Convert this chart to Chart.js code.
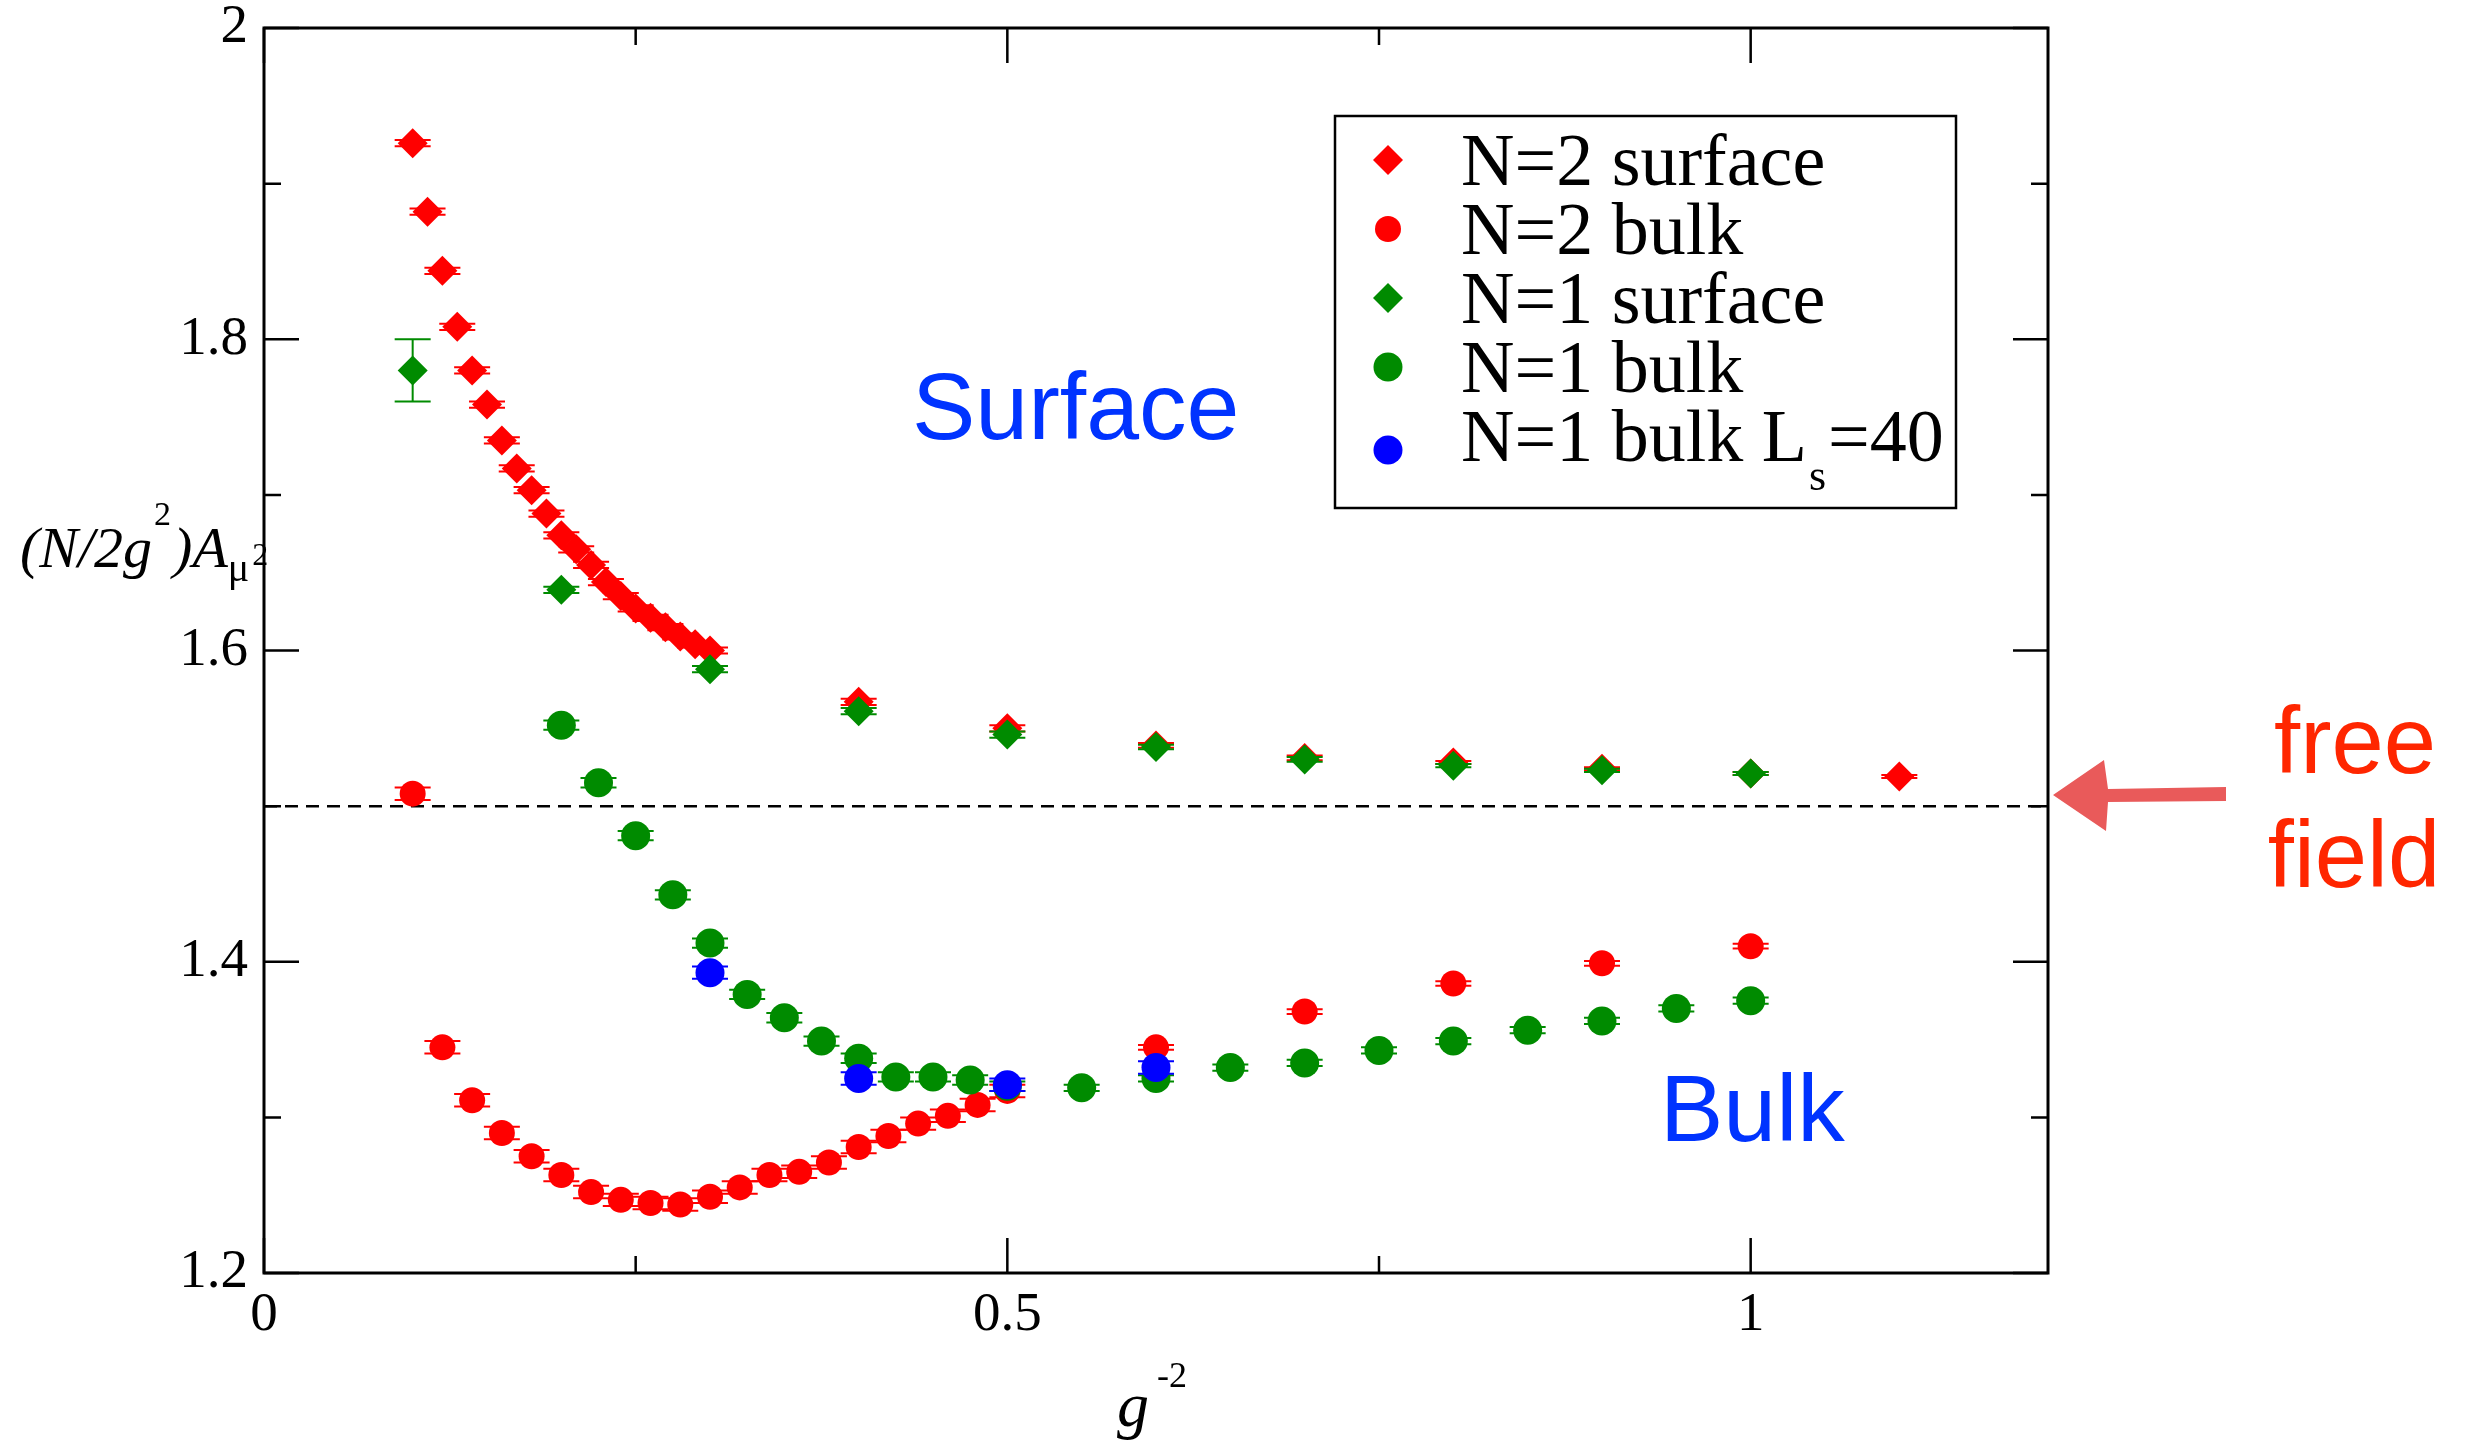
<!DOCTYPE html>
<html lang="en">
<head>
<meta charset="UTF-8">
<title>(N/2g²)A vs g⁻²</title>
<script src="https://cdn.jsdelivr.net/npm/chart.js@4.4.1/dist/chart.umd.min.js"></script>
<style>
  html, body { margin: 0; padding: 0; background: #fff; }
  #wrap { position: relative; width: 2465px; height: 1447px; }
</style>
</head>
<body>
<div id="wrap"><canvas id="plot"></canvas></div>
<script>
// --- axis ticks ---
const xTickValues = [0, 0.5, 1];
const xMinorTicks = [0.25, 0.75];
const yTickValues = [1.2, 1.4, 1.6, 1.8, 2];
const yMinorTicks = [1.3, 1.5, 1.7, 1.9];
const freeFieldLevel = 1.5;

// --- N=2 surface ---
const n2SurfX = [0.10, 0.11, 0.12, 0.13, 0.14, 0.15, 0.16, 0.17, 0.18, 0.19, 0.20,
                 0.21, 0.22, 0.23, 0.24, 0.25, 0.26, 0.27, 0.28, 0.29, 0.30,
                 0.4, 0.5, 0.6, 0.7, 0.8, 0.9, 1.0, 1.1];
const n2SurfY = [1.926, 1.882, 1.844, 1.808, 1.780, 1.758, 1.735, 1.717, 1.703, 1.688, 1.674,
                 1.665, 1.655, 1.644, 1.635, 1.627, 1.621, 1.615, 1.609, 1.604, 1.600,
                 1.567, 1.550, 1.539, 1.531, 1.528, 1.524, 1.521, 1.519];
const n2SurfErr = [0.002, 0.002, 0.002, 0.002, 0.002, 0.002, 0.002, 0.002, 0.002, 0.002, 0.002,
                   0.002, 0.002, 0.002, 0.002, 0.002, 0.002, 0.002, 0.002, 0.002, 0.002,
                   0.002, 0.002, 0.0015, 0.0015, 0.001, 0.001, 0.001, 0.001];

// --- N=2 bulk ---
const n2BulkX = [0.10, 0.12, 0.14, 0.16, 0.18, 0.20, 0.22, 0.24, 0.26, 0.28, 0.30,
                 0.32, 0.34, 0.36, 0.38, 0.40, 0.42, 0.44, 0.46, 0.48, 0.50,
                 0.6, 0.7, 0.8, 0.9, 1.0];
const n2BulkY = [1.508, 1.345, 1.311, 1.290, 1.275, 1.263, 1.252, 1.247, 1.245, 1.244, 1.249,
                 1.255, 1.263, 1.265, 1.271, 1.281, 1.288, 1.296, 1.301, 1.308, 1.317,
                 1.345, 1.368, 1.386, 1.399, 1.410];
const n2BulkErr = [0.004, 0.004, 0.004, 0.004, 0.004, 0.004, 0.004, 0.004, 0.004, 0.004, 0.004,
                   0.004, 0.004, 0.004, 0.004, 0.004, 0.004, 0.004, 0.004, 0.004, 0.004,
                   0.0015, 0.0015, 0.0015, 0.0015, 0.0015];

// --- N=1 surface ---
const n1SurfX = [0.1, 0.2, 0.3, 0.4, 0.5, 0.6, 0.7, 0.8, 0.9, 1.0];
const n1SurfY = [1.780, 1.639, 1.588, 1.561, 1.546, 1.538, 1.530, 1.526, 1.523, 1.521];
const n1SurfErr = [0.020, 0.002, 0.002, 0.002, 0.002, 0.0015, 0.0015, 0.001, 0.001, 0.001];

// --- N=1 bulk ---
const n1BulkX = [0.2, 0.225, 0.25, 0.275, 0.3, 0.325, 0.35, 0.375, 0.4, 0.425, 0.45, 0.475, 0.5,
                 0.55, 0.6, 0.65, 0.7, 0.75, 0.8, 0.85, 0.9, 0.95, 1.0];
const n1BulkY = [1.552, 1.515, 1.481, 1.443, 1.412, 1.379, 1.364, 1.349, 1.338, 1.326, 1.326, 1.324, 1.320,
                 1.319, 1.325, 1.332, 1.335, 1.343, 1.349, 1.356, 1.362, 1.370, 1.375];
const n1BulkErr = [0.003, 0.003, 0.003, 0.003, 0.003, 0.003, 0.003, 0.003, 0.003, 0.003, 0.003, 0.003, 0.003,
                   0.002, 0.002, 0.002, 0.002, 0.002, 0.002, 0.002, 0.002, 0.002, 0.002];

// --- N=1 bulk, Ls=40 ---
const n1Ls40X = [0.3, 0.4, 0.5, 0.6];
const n1Ls40Y = [1.393, 1.325, 1.321, 1.332];
const n1Ls40Err = [0.004, 0.004, 0.004, 0.004];

const RED = '#ff0000';
const GREEN = '#008b00';
const BLUE = '#0000ff';
const SERIF = '"Liberation Serif", "Times New Roman", serif';
const SANS = '"Liberation Sans", Helvetica, Arial, sans-serif';

function makeSet(label, xs, ys, errs, color, style, radius, order) {
    return {
        label: label,
        data: xs.map((x, i) => ({ x: x, y: ys[i] })),
        errors: errs,
        pointStyle: style,
        pointRadius: radius,
        pointBackgroundColor: color,
        pointBorderWidth: 0,
        borderColor: color,
        showLine: false,
        order: order
    };
}

// error bars drawn under each set's own markers
const errorBars = {
    id: 'errorBars',
    beforeDatasetDraw(chart, args) {
        const ds = chart.data.datasets[args.index];
        if (!ds.errors) return;
        const ctx = chart.ctx;
        const ys = chart.scales.y;
        ctx.save();
        ctx.strokeStyle = ds.borderColor;
        ctx.lineWidth = 2;
        args.meta.data.forEach((pt, i) => {
            const v = ds.data[i].y, e = ds.errors[i];
            const yt = ys.getPixelForValue(v + e), yb = ys.getPixelForValue(v - e);
            const cap = 18;
            ctx.beginPath();
            ctx.moveTo(pt.x, yt); ctx.lineTo(pt.x, yb);
            ctx.moveTo(pt.x - cap, yt); ctx.lineTo(pt.x + cap, yt);
            ctx.moveTo(pt.x - cap, yb); ctx.lineTo(pt.x + cap, yb);
            ctx.stroke();
        });
        ctx.restore();
    }
};

function diamond(ctx, x, y, r) {
    ctx.beginPath();
    ctx.moveTo(x - r, y); ctx.lineTo(x, y - r); ctx.lineTo(x + r, y); ctx.lineTo(x, y + r);
    ctx.closePath();
    ctx.fill();
}
function dot(ctx, x, y, r) {
    ctx.beginPath();
    ctx.arc(x, y, r, 0, Math.PI * 2);
    ctx.fill();
}

// frame, ticks, free-field line, legend and labels
const decorations = {
    id: 'decorations',
    beforeDatasetsDraw(chart) {
        const ctx = chart.ctx, a = chart.chartArea, ys = chart.scales.y;
        const y = ys.getPixelForValue(freeFieldLevel);
        ctx.save();
        ctx.strokeStyle = '#000';
        ctx.lineWidth = 2.5;
        ctx.setLineDash([13, 8]);
        ctx.beginPath();
        ctx.moveTo(a.left, y); ctx.lineTo(a.right, y);
        ctx.stroke();
        ctx.restore();
    },
    afterDatasetsDraw(chart) {
        const ctx = chart.ctx, a = chart.chartArea;
        const xs = chart.scales.x, ys = chart.scales.y;
        ctx.save();
        ctx.strokeStyle = '#000';
        ctx.lineWidth = 2.5;
        const major = 35, minor = 17;
        ctx.beginPath();
        const yTick = (v, len) => {
            const p = ys.getPixelForValue(v);
            ctx.moveTo(a.left, p); ctx.lineTo(a.left + len, p);
            ctx.moveTo(a.right, p); ctx.lineTo(a.right - len, p);
        };
        const xTick = (v, len) => {
            const p = xs.getPixelForValue(v);
            ctx.moveTo(p, a.bottom); ctx.lineTo(p, a.bottom - len);
            ctx.moveTo(p, a.top); ctx.lineTo(p, a.top + len);
        };
        yTickValues.forEach(v => yTick(v, major));
        yMinorTicks.forEach(v => yTick(v, minor));
        xTickValues.forEach(v => xTick(v, major));
        xMinorTicks.forEach(v => xTick(v, minor));
        ctx.stroke();
        ctx.lineWidth = 3;
        ctx.strokeRect(a.left, a.top, a.right - a.left, a.bottom - a.top);
        ctx.restore();
    },
    afterDraw(chart) {
        const ctx = chart.ctx;
        ctx.save();
        ctx.textAlign = 'left';
        ctx.textBaseline = 'alphabetic';

        // legend
        ctx.strokeStyle = '#000';
        ctx.lineWidth = 2.5;
        ctx.strokeRect(1335, 116, 621, 392);
        const rows = [
            { text: 'N=2 surface', color: RED, shape: 'd', r: 15, cy: 160, base: 185 },
            { text: 'N=2 bulk', color: RED, shape: 'c', r: 13, cy: 229, base: 254 },
            { text: 'N=1 surface', color: GREEN, shape: 'd', r: 15, cy: 298, base: 323 },
            { text: 'N=1 bulk', color: GREEN, shape: 'c', r: 14.5, cy: 367, base: 392 },
            { text: 'N=1 bulk L', color: BLUE, shape: 'c', r: 14.5, cy: 450, base: 461 }
        ];
        rows.forEach(row => {
            ctx.fillStyle = row.color;
            if (row.shape === 'd') diamond(ctx, 1388, row.cy, row.r);
            else dot(ctx, 1388, row.cy, row.r);
            ctx.fillStyle = '#000';
            ctx.font = '74px ' + SERIF;
            ctx.fillText(row.text, 1461, row.base);
        });
        let lx = 1461 + ctx.measureText('N=1 bulk L').width + 2;
        ctx.font = '44px ' + SERIF;
        ctx.fillText('s', lx, 490);
        lx += ctx.measureText('s').width + 2;
        ctx.font = '74px ' + SERIF;
        ctx.fillText('=40', lx, 461);

        // y axis title
        let x = 20;
        const yb = 567;
        ctx.font = 'italic 58px ' + SERIF;
        ctx.fillText('(N/2g', x, yb);
        x += ctx.measureText('(N/2g').width + 2;
        ctx.font = '34px ' + SERIF;
        ctx.fillText('2', x, yb - 42);
        x += ctx.measureText('2').width + 2;
        ctx.font = 'italic 58px ' + SERIF;
        ctx.fillText(')A', x, yb);
        x += ctx.measureText(')A').width;
        ctx.font = '40px ' + SERIF;
        ctx.fillText('\u03bc', x, yb + 14);
        x += ctx.measureText('\u03bc').width + 3;
        ctx.font = '32px ' + SERIF;
        ctx.fillText('2', x, yb - 2);

        // x axis title
        ctx.font = 'italic 64px ' + SERIF;
        ctx.fillText('g', 1117, 1426);
        ctx.font = '36px ' + SERIF;
        ctx.fillText('-2', 1157, 1387);

        // region labels
        ctx.fillStyle = '#0033ff';
        ctx.font = '95px ' + SANS;
        ctx.fillText('Surface', 912, 439);
        ctx.fillText('Bulk', 1660, 1141);

        // free field note with arrow
        ctx.fillStyle = '#ff2600';
        ctx.textAlign = 'center';
        ctx.font = '94px ' + SANS;
        ctx.fillText('free', 2355, 773);
        ctx.fillText('field', 2354, 887);

        ctx.fillStyle = '#e95a5a';
        ctx.beginPath();
        ctx.moveTo(2053, 795);
        ctx.lineTo(2104, 760);
        ctx.lineTo(2108, 789);
        ctx.lineTo(2226, 787);
        ctx.lineTo(2226, 801);
        ctx.lineTo(2108, 802);
        ctx.lineTo(2106, 831);
        ctx.closePath();
        ctx.fill();
        ctx.restore();
    }
};

const tickFont = { family: SERIF, size: 55 };

new Chart(document.getElementById('plot'), {
    type: 'scatter',
    data: {
        datasets: [
            makeSet('N=2 surface', n2SurfX, n2SurfY, n2SurfErr, RED, 'rectRot', 15, 5),
            makeSet('N=2 bulk', n2BulkX, n2BulkY, n2BulkErr, RED, 'circle', 13, 4),
            makeSet('N=1 surface', n1SurfX, n1SurfY, n1SurfErr, GREEN, 'rectRot', 15, 3),
            makeSet('N=1 bulk', n1BulkX, n1BulkY, n1BulkErr, GREEN, 'circle', 14.5, 2),
            makeSet('N=1 bulk Ls=40', n1Ls40X, n1Ls40Y, n1Ls40Err, BLUE, 'circle', 14.5, 1)
        ]
    },
    options: {
        responsive: true,
        maintainAspectRatio: false,
        animation: false,
        events: [],
        layout: { padding: { top: 28, right: 417, left: 0, bottom: 0 } },
        plugins: {
            legend: { display: false },
            tooltip: { enabled: false },
            title: { display: false }
        },
        scales: {
            x: {
                type: 'linear',
                min: 0,
                max: 1.2,
                grid: { display: false, drawTicks: false },
                border: { display: false },
                afterFit: s => { s.height = 174; s.paddingLeft = 0; s.paddingRight = 0; },
                afterBuildTicks: s => { s.ticks = xTickValues.map(v => ({ value: v })); },
                ticks: { font: tickFont, color: '#000', padding: 10, maxRotation: 0, callback: v => String(v) }
            },
            y: {
                type: 'linear',
                min: 1.2,
                max: 2,
                grid: { display: false, drawTicks: false },
                border: { display: false },
                afterFit: s => { s.width = 264; s.paddingTop = 0; s.paddingBottom = 0; },
                afterBuildTicks: s => { s.ticks = yTickValues.map(v => ({ value: v })); },
                ticks: { font: tickFont, color: '#000', padding: 16, callback: v => String(v) }
            }
        }
    },
    plugins: [errorBars, decorations]
});
</script>
</body>
</html>
